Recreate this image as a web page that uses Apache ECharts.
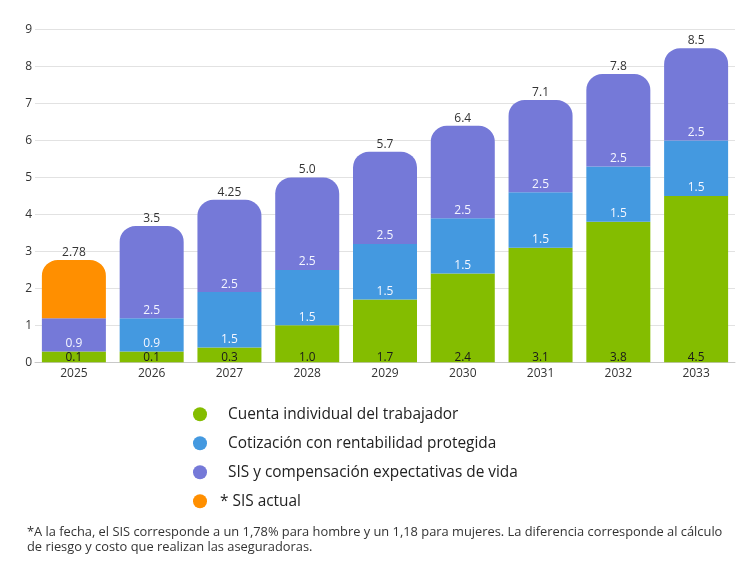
<!DOCTYPE html>
<html><head><meta charset="utf-8">
<script src="https://cdn.jsdelivr.net/npm/echarts@6/dist/echarts.min.js"></script>
<style>html,body{margin:0;padding:0;background:#fff}#c{width:753px;height:576px}</style>
</head><body><div id="c"></div>
<script>
const years = ['2025','2026','2027','2028','2029','2030','2031','2032','2033'];
const cuenta = [0.29, 0.29, 0.4, 1.0, 1.7, 2.4, 3.1, 3.8, 4.5];
const cuentaLabels = ['0.1','0.1','0.3','1.0','1.7','2.4','3.1','3.8','4.5'];
const cotizacion = ['-', 0.9, 1.5, 1.5, 1.5, 1.5, 1.5, 1.5, 1.5];
const cotizacionLabels = ['','0.9','1.5','1.5','1.5','1.5','1.5','1.5','1.5'];
const sis = [0.9, 2.5, 2.5, 2.5, 2.5, 2.5, 2.5, 2.5, 2.5];
const sisLabels = ['0.9','2.5','2.5','2.5','2.5','2.5','2.5','2.5','2.5'];
const sisActual = [1.58, '-', '-', '-', '-', '-', '-', '-', '-'];
const totalLabels = ['2.78','3.5','4.25','5.0','5.7','6.4','7.1','7.8','8.5'];
const seriesNames = ['Cuenta individual del trabajador','Cotización con rentabilidad protegida','SIS y compensación expectativas de vida','* SIS actual'];
const footnote = ['*A la fecha, el SIS corresponde a un 1,78% para hombre y un 1,18 para mujeres. La diferencia corresponde al cálculo','de riesgo y costo que realizan las aseguradoras.'];

const FONT = 'Open Sans';
const R = 16;
const colors = ['#84bd00','#4499e0','#7579d8','#ff8f00'];

function inLabel(labels, color, dist, size) {
  return {show: true, position: 'insideBottom', distance: dist, color: color, fontSize: size, fontFamily: FONT,
    formatter: p => labels[p.dataIndex]};
}

const chart = echarts.init(document.getElementById('c'), null, {renderer: 'canvas'});
chart.setOption({
  animation: false,
  textStyle: {fontFamily: FONT},
  grid: {left: 35, right: 18, top: 29.7, bottom: 213.7, containLabel: false},
  xAxis: {type: 'category', data: years,
    axisLine: {lineStyle: {color: '#c8c8c8'}}, axisTick: {show: false},
    axisLabel: {color: '#333', fontSize: 12, fontFamily: FONT, margin: 5}},
  yAxis: {type: 'value', min: 0, max: 9, interval: 1,
    axisLine: {show: false}, axisTick: {show: false},
    axisLabel: {color: '#333', fontSize: 12, fontFamily: FONT, margin: 3},
    splitLine: {lineStyle: {color: '#e2e2e2'}}},
  legend: {orient: 'vertical', left: 188, top: 401.7, itemWidth: 14, itemHeight: 14, itemGap: 14,
    icon: 'circle', data: seriesNames,
    formatter: n => n === '* SIS actual' ? '{b|' + n + '}' : '{a|' + n + '}',
    textStyle: {color: '#222', fontSize: 15.4, fontFamily: FONT,
      rich: {a: {padding: [0,0,0,16], fontSize: 15.4, fontFamily: FONT, color: '#222'},
             b: {padding: [0,0,0,8], fontSize: 15.4, fontFamily: FONT, color: '#222'}}}},
  graphic: footnote.map((t, i) => ({type: 'text', left: 27, top: 525.5 + i * 15.5,
    style: {text: t, fill: '#333', fontSize: 12.85, fontFamily: FONT}})),
  series: [
    {name: seriesNames[0], type: 'bar', stack: 's', barWidth: 64, data: cuenta,
      itemStyle: {color: colors[0]}, label: inLabel(cuentaLabels, '#1a1a1a', -1, 11.8)},
    {name: seriesNames[1], type: 'bar', stack: 's', barWidth: 64, data: cotizacion,
      itemStyle: {color: colors[1]}, label: inLabel(cotizacionLabels, '#f4f6ff', 2, 12)},
    {name: seriesNames[2], type: 'bar', stack: 's', barWidth: 64,
      data: sis.map((v, i) => sisActual[i] === '-' ? {value: v, itemStyle: {borderRadius: [R, R, 0, 0]}} : v),
      itemStyle: {color: colors[2]}, label: inLabel(sisLabels, '#f4f6ff', 2, 12)},
    {name: seriesNames[3], type: 'bar', stack: 's', barWidth: 64, data: sisActual,
      itemStyle: {color: colors[3], borderRadius: [R, R, 0, 0]}},
    {name: 'total', type: 'bar', stack: 's', barWidth: 64, data: years.map(() => 0),
      itemStyle: {color: 'transparent'},
      label: {show: true, position: 'top', distance: 1.5, color: '#333', fontSize: 12, fontFamily: FONT,
        formatter: p => totalLabels[p.dataIndex]}}
  ]
});
</script></body></html>
